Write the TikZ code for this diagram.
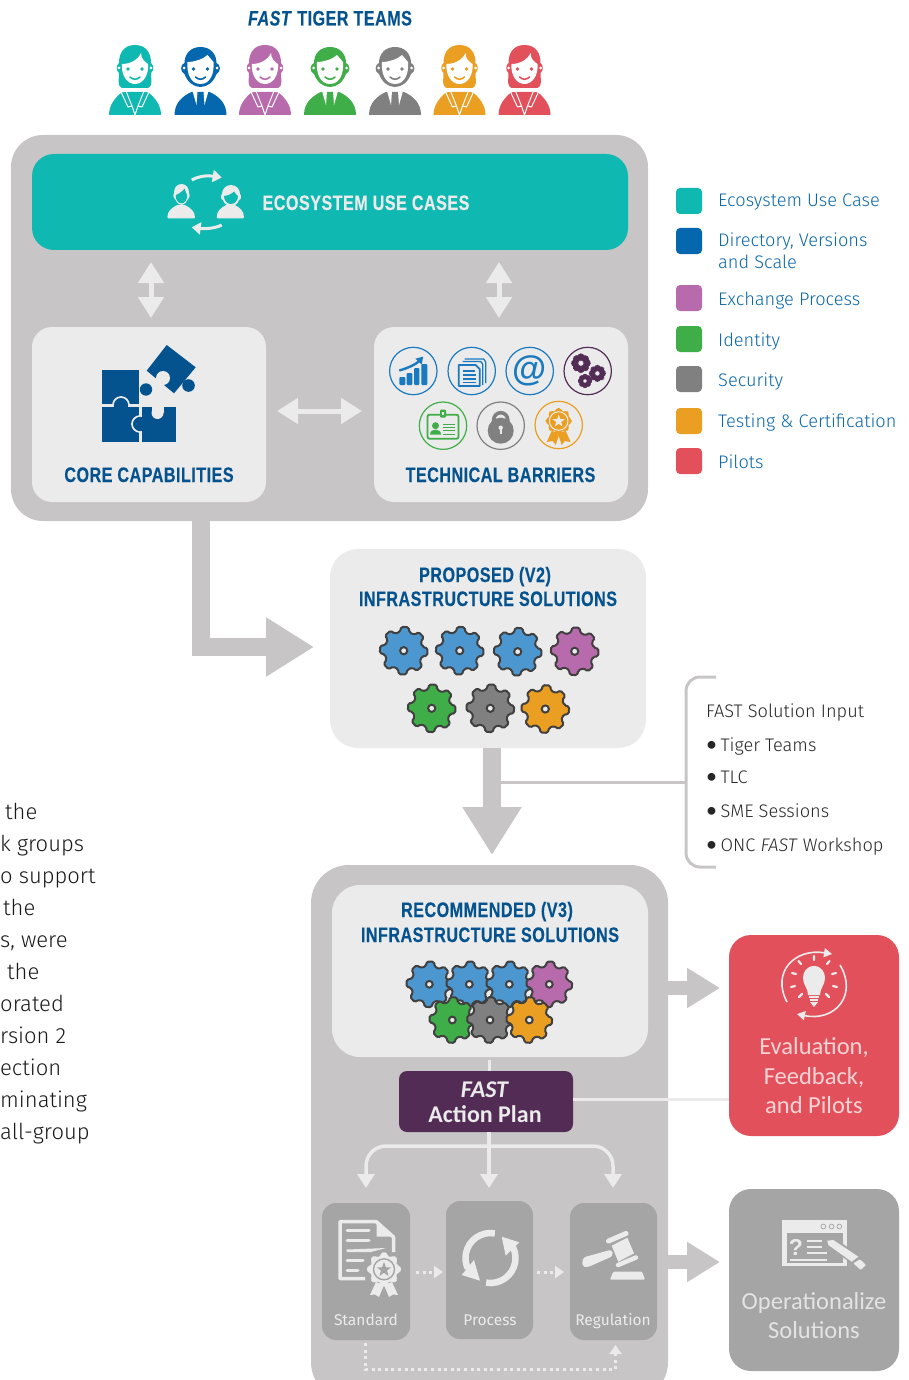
\documentclass[tikz,border=0pt]{standalone}
\usepackage{fontspec}
\usetikzlibrary{arrows.meta,shapes.geometric,calc}
\setmainfont{Fira Sans Light}[BoldFont={Fira Sans},ItalicFont={Fira Sans Light Italic}]
\newfontfamily\headf[FakeStretch=0.77,LetterSpace=2.2,FakeBold=0.25]{Liberation Sans Bold}
\newfontfamily\headfi[FakeStretch=0.77,LetterSpace=2.2,FakeBold=0.25]{Liberation Sans Bold Italic}
\newfontfamily\atf{Liberation Sans Bold}
\newfontfamily\calib{Carlito}
\definecolor{cteal}{HTML}{0FB9B1}
\definecolor{cblue}{HTML}{0568AE}
\definecolor{cpurp}{HTML}{B86BAC}
\definecolor{cgreen}{HTML}{3FAE49}
\definecolor{cgray}{HTML}{808080}
\definecolor{corange}{HTML}{EA9F22}
\definecolor{cred}{HTML}{E2505C}
\definecolor{ctitle}{HTML}{04528E}
\definecolor{cbg}{HTML}{C7C5C6}
\definecolor{clight}{HTML}{EBEBEB}
\definecolor{cgear}{HTML}{4D97D1}
\definecolor{cplum}{HTML}{532C56}
\definecolor{cbox}{HTML}{A5A5A5}
\definecolor{cdark}{HTML}{404040}
\definecolor{ctext}{HTML}{0A67A8}
\definecolor{cicon}{HTML}{1A7ABF}
\tikzset{
 panel/.style n args={5}{draw=none,fill=#1,rectangle,inner sep=0pt,outer sep=0pt,rounded corners=#2,minimum width=#3 pt,minimum height=#4 pt},
 head/.style={font=\headf\fontsize{21}{24}\selectfont,text=ctitle,inner sep=0pt,anchor=base},
 legtxt/.style={font=\fontsize{18.2}{22}\selectfont,text=ctext,anchor=base west,inner sep=0pt},
 soltxt/.style={font=\fontsize{18.2}{22}\selectfont,text=black!85,anchor=base west,inner sep=0pt},
 bodytxt/.style={font=\fontsize{22}{26}\selectfont,text=black!90,anchor=base west,inner sep=0pt},
 boxtxt/.style={font=\bfseries\fontsize{15.5}{18}\selectfont,text=clight,inner sep=0pt,anchor=base},
 calibtxt/.style={font=\calib\fontsize{24.5}{29.5}\selectfont,align=center,inner sep=0pt},
 swatch/.style={fill=#1,rectangle,rounded corners=4pt,minimum width=26pt,minimum height=26pt,inner sep=0pt},
 bigarrow/.style={cbg,line width=18pt,-{Triangle[length=48pt,width=56pt]}},
 midarrow/.style={cbg,line width=14pt,-{Triangle[length=33pt,width=38pt]}},
 duoV/.style={clight,line width=5pt,{Triangle[length=21pt,width=25pt]}-{Triangle[length=21pt,width=25pt]}},
 link/.style={clight,line width=3pt},
 tipline/.style={clight,line width=3.5pt,-{Triangle[length=14pt,width=17pt]}},
 dottip/.style={clight,-{Triangle[length=9pt,width=12pt]},line width=3pt,dash pattern=on 3pt off 3.6pt},
}
% gear: x y R fill stroke holeR holefill strokewidth rotation
\newcommand\gearicon[9]{%
 \pgfmathsetmacro\gr{#3*0.8}%
 \filldraw[fill=#4,draw=#5,line width=#8pt,rounded corners=1.6pt,line join=round,shift={(#1,#2)}]
  ({#9-14}:\gr) \foreach \i in {0,...,7}{ -- ({#9+\i*45-14}:\gr) -- ({#9+\i*45-9}:#3) -- ({#9+\i*45+9}:#3) -- ({#9+\i*45+14}:\gr) } -- cycle;
 \filldraw[fill=#7,draw=#5,line width=#8pt] (#1,#2) circle[radius=#6];
}
\newcommand\bgear[3]{\gearicon{#1}{#2}{24}{#3}{cdark}{3.6}{clight}{2}{3}}
\newcommand\cgear[3]{\gearicon{#1}{#2}{23}{#3}{cdark}{3.4}{clight}{2}{3}}
\newcommand\faceparts[1]{%
 \fill[#1] (-7,24) circle[radius=1.9] (7,24) circle[radius=1.9];
 \draw[#1,line width=1.6pt,line cap=round] (-5,32) .. controls (-2,35) and (2,35) .. (5,32);
}
\newcommand\femaleicon[2]{\begin{scope}[shift={(#1,45)}]
 \fill[#2] (0,0) .. controls (-12,0) and (-16,9) .. (-16,18) .. controls (-19,20) and (-19,26) .. (-16,28) .. controls (-16,35) and (-18,41) .. (-13,43) -- (13,43) .. controls (18,41) and (16,35) .. (16,28) .. controls (19,26) and (19,20) .. (16,18) .. controls (16,9) and (12,0) .. (0,0) -- cycle;
 \fill[white] (6,8) .. controls (6,14) and (10,17) .. (13,19) .. controls (14,30) and (8,39) .. (0,39) .. controls (-8,39) and (-14,30) .. (-13,19) .. controls (-5,19) and (3,15) .. (6,8) -- cycle;
 \fill[white] (-16,23) circle[radius=1.5] (16,23) circle[radius=1.5];
 \faceparts{#2}
 \fill[#2] (-26,70) .. controls (-26,60) and (-20,53) .. (-13,47) -- (13,47) .. controls (20,53) and (26,60) .. (26,70) -- cycle;
 \draw[white,line width=1pt,line join=round] (-14,47) -- (-9,46) -- (-3,61) -- (0,70) -- (3,61) -- (9,46) -- (14,47) (-14,47) -- (-7,62) -- (-3,61) (14,47) -- (7,62) -- (3,61);
\end{scope}}
\newcommand\maleicon[2]{\begin{scope}[shift={(#1,45)}]
 \fill[#2] (0,2) .. controls (-10,2) and (-16,9) .. (-16,18) .. controls (-20,19) and (-21,27) .. (-16,29) .. controls (-13,37) and (-7,42) .. (0,42) .. controls (7,42) and (13,37) .. (16,29) .. controls (21,27) and (20,19) .. (16,18) .. controls (16,9) and (10,2) .. (0,2) -- cycle;
 \fill[white] (-13,17) .. controls (-6,17) and (3,14) .. (7,10) .. controls (9,13) and (12,15) .. (13,17) .. controls (14,28) and (10,39) .. (0,39) .. controls (-10,39) and (-14,28) .. (-13,17) -- cycle;
 \fill[white] (-16.5,23) circle[radius=1.5] (16.5,23) circle[radius=1.5];
 \faceparts{#2}
 \fill[#2] (-26,70) .. controls (-26,58) and (-18,51) .. (-9,47) -- (9,47) .. controls (18,51) and (26,58) .. (26,70) -- cycle;
 \fill[white] (-8,46) -- (-3,46) -- (-4,60) -- cycle (8,46) -- (3,46) -- (4,60) -- cycle;
\end{scope}}
\newcommand\ringicon[3]{\draw[#3,line width=1.2pt,fill=clight] (#1,#2) circle[radius=23.7];}
\newcommand\soltbullet{{\calib\fontsize{22}{22}\selectfont•}\hspace{3.5pt}}
\begin{document}
\begin{tikzpicture}[x=1pt,y=-1pt]
\useasboundingbox (0,0) rectangle (908,1380);
\clip (0,0) rectangle (908,1380);
% title
\node[font=\fontsize{21}{24}\selectfont,text=ctitle,inner sep=0pt,anchor=base] (title) at (330,25.5) {{\headfi FAST}\hspace{6.5pt}{\headf TIGER TEAMS}};
\femaleicon{135}{cteal}
\maleicon{200.5}{cblue}
\femaleicon{265}{cpurp}
\maleicon{330}{cgreen}
\maleicon{395}{cgray}
\femaleicon{459.5}{corange}
\femaleicon{524.5}{cred}
% top panel
\node[panel={cbg}{32pt}{637}{386}{}] (top) at (329.5,328) {};
\node[panel={cteal}{22pt}{596}{96}{}] (eco) at (330,202) {};
\node[panel={clight}{20pt}{234}{175}{}] (core) at (149,414.5) {};
\node[panel={clight}{20pt}{254}{175}{}] (tech) at (501,414.5) {};
\coordinate (a1) at (151,262); \coordinate (a2) at (151,318);
\coordinate (a3) at (499,262); \coordinate (a4) at (499,318);
\coordinate (a5) at (277,411); \coordinate (a6) at (362,411);
\draw[duoV] (a1) -- (a2);
\draw[duoV] (a3) -- (a4);
\draw[duoV] (a5) -- (a6);
\node[font=\headf\fontsize{21}{24}\selectfont,text=clight,inner sep=0pt,anchor=base] (ecot) at (366,210) {ECOSYSTEM USE CASES};
\node[head] (coret) at (149,482) {CORE CAPABILITIES};
\node[head] (techt) at (500.5,482) {TECHNICAL BARRIERS};
% eco icon
\begin{scope}[clight]
 \fill[rounded corners=1pt] (167.3,218.3) .. controls (167.3,211) and (172,208) .. (177,205) -- (185,205) .. controls (190,208) and (195,211) .. (195,218.3) -- cycle;
 \fill[rounded corners=1pt] (216.7,218.3) .. controls (216.7,211) and (221,208) .. (226,205) -- (235,205) .. controls (240,208) and (244,211) .. (244,218.3) -- cycle;
 \fill (181.5,184) .. controls (176,184) and (174,189) .. (174,193) .. controls (172.5,196) and (174,199) .. (175,199) .. controls (176,202) and (178,204) .. (181.5,205) .. controls (185,204) and (187,202) .. (188,199) .. controls (189,199) and (190.5,196) .. (189,193) .. controls (189,189) and (187,184) .. (181.5,184) -- cycle;
 \fill (231,185) .. controls (225,185) and (222,190) .. (222,194) .. controls (220,196) and (221,200) .. (223,200) .. controls (224,204) and (228,206) .. (231,206) .. controls (234,206) and (238,204) .. (239,200) .. controls (241,200) and (242,196) .. (240,194) .. controls (240,190) and (237,185) .. (231,185) -- cycle;
 \draw[line width=3pt,-{Triangle[length=9pt,width=12pt]}] (191.7,180) .. controls (198,176.5) and (206,175) .. (221.7,177.5);
 \draw[line width=3pt,-{Triangle[length=9pt,width=12pt]}] (221.7,225) .. controls (215,228.5) and (205,229) .. (191.7,227.3);
\end{scope}
\fill[cteal] (175.8,195) .. controls (179,194) and (183,191) .. (184.5,188.5) .. controls (185.5,191.5) and (186.5,193.5) .. (187,195) .. controls (187.5,201) and (184,203.3) .. (181.5,203.3) .. controls (179,203.3) and (175.5,201) .. (175.8,195) -- cycle;
\fill[cteal] (224,196) .. controls (229,195.5) and (232,193.5) .. (234,191.5) .. controls (235,193) and (236.5,195) .. (238,196) .. controls (238,201) and (234.5,204) .. (231,204) .. controls (227.5,204) and (224,201) .. (224,196) -- cycle;
% puzzle
\begin{scope}[ctitle]
 \fill (102.3,370.3) rectangle (139,404);
 \fill (102.3,406.7) rectangle (139,441.7);
 \fill (141.7,406.7) rectangle (175.7,441.7);
 \fill (146,389.5) circle[radius=6.2];
 \fill (166.7,345) -- (195.7,367.3) -- (174,393.3) -- (146.7,370.7) -- cycle;
 \fill (188.5,385.5) circle[radius=6.3];
 \draw[clight,line width=1.7pt,fill=ctitle] (121,405) ++(-8,0) arc (180:360:8);
 \fill (113.8,404) rectangle (128.2,407);
 \draw[clight,line width=1.7pt,fill=ctitle] (140,424) ++(0,-8) arc (270:90:8);
 \fill (138,416.8) rectangle (142,431.2);
 \fill[clight] (157.5,413) circle[radius=6];
 \fill[clight] (151.5,405) rectangle (163.5,413);
 \fill[clight] (163,378) circle[radius=7];
\end{scope}
% technical barriers
\ringicon{413.3}{371}{cicon}
\ringicon{471.7}{371}{cicon}
\ringicon{529.7}{371}{cicon}
\ringicon{587.7}{371}{cplum}
\ringicon{443}{425.7}{cgreen}
\ringicon{500.7}{425.7}{cgray}
\ringicon{558.7}{425}{corange}
\begin{scope}[shift={(413.3,371)},cicon]
 \fill[rounded corners=1pt] (-14,14) rectangle (-8,6) (-6.7,14) rectangle (-1,2) (0.7,14) rectangle (6,-3) (8,14) rectangle (14,-7);
 \draw[line width=2.4pt,-{Triangle[length=7pt,width=8pt]}] (-14,-0.5) .. controls (-5,-3) and (3,-7) .. (10,-14.5);
\end{scope}
\begin{scope}[shift={(471.7,371)},cicon,line join=round]
 \draw[line width=1.3pt] (-7,-12) -- (12,-12) -- (14,-9) -- (14,12);
 \draw[line width=1.3pt] (-9,-9.5) -- (9,-9.5) -- (11,-7) -- (11,14);
 \draw[line width=1.8pt,fill=clight] (-13,-6) -- (4,-6) -- (8,-2) -- (8,15) -- (-13,15) -- cycle;
 \draw[line width=1.4pt] (-9,0) -- (3,0) (-9,4) -- (4,4) (-9,8) -- (4,8) (-9,11.5) -- (4,11.5);
\end{scope}
\node[font=\atf\fontsize{35}{35}\selectfont,text=cicon,inner sep=0pt] (atsign) at (529.7,371) {@};
\gearicon{580.9}{363.2}{9.8}{cplum}{cplum}{3}{clight}{0.5}{0}
\gearicon{597.4}{373.4}{8.3}{cplum}{cplum}{2.6}{clight}{0.5}{0}
\gearicon{585}{381}{6.6}{cplum}{cplum}{2.1}{clight}{0.5}{0}
\begin{scope}[shift={(443,425.7)},cgreen]
 \draw[line width=1.8pt,rounded corners=2pt] (-15.5,-11) rectangle (15.5,13);
 \fill[rounded corners=1pt] (-3,-16) rectangle (3,-8);
 \fill[clight] (-1,-14) rectangle (1,-11);
 \fill (-7.5,0) circle[radius=3.5];
 \fill (-13,9) .. controls (-13,5) and (-10,4) .. (-7.5,4) .. controls (-5,4) and (-2,5) .. (-2,9) -- cycle;
 \draw[line width=1pt] (0,-1) -- (12,-1) (0,2) -- (12,2) (0,5) -- (12,5) (0,8.5) -- (12,8.5);
\end{scope}
\begin{scope}[shift={(500.7,425.7)},cgray]
 \draw[line width=3.6pt] (-7,-2) -- (-7,-6) arc (180:360:7) -- (7,-2);
 \fill (0,5) circle[radius=13];
 \fill[clight] (0,2) circle[radius=2.2];
 \fill[clight] (-1,2) rectangle (1,8);
\end{scope}
\begin{scope}[shift={(558.7,425)},corange]
 \fill (-7,6) -- (-12,17) -- (-6,16) -- (-3,20) -- (1,8) -- cycle;
 \fill (7,6) -- (12,17) -- (6,16) -- (3,20) -- (-1,8) -- cycle;
\end{scope}
\gearicon{558.7}{421}{13}{corange}{corange}{8.4}{corange}{0.3}{0}
\draw[clight,line width=1pt] (558.7,421) circle[radius=9.3];
\fill[clight] (558.7,414.5) -- (560.2,419) -- (565,419) -- (561.2,422) -- (562.5,426.5) -- (558.7,423.8) -- (554.9,426.5) -- (556.2,422) -- (552.4,419) -- (557.2,419) -- cycle;
% legend
\node[swatch=cteal] (s1) at (689,201) {};
\node[swatch=cblue] (s2) at (689,241) {};
\node[swatch=cpurp] (s3) at (689,298) {};
\node[swatch=cgreen] (s4) at (689,339) {};
\node[swatch=cgray] (s5) at (689,379) {};
\node[swatch=corange] (s6) at (689,421) {};
\node[swatch=cred] (s7) at (689,461) {};
\node[legtxt] (l1) at (718,207) {Ecosystem Use Case};
\node[legtxt] (l2) at (718,247) {Directory, Versions};
\node[legtxt] (l2b) at (718,269) {and Scale};
\node[legtxt] (l3) at (718,305) {Exchange Process};
\node[legtxt] (l4) at (718,346) {Identity};
\node[legtxt] (l5) at (718,386) {Security};
\node[legtxt] (l6) at (718,427) {Testing \& Certification};
\node[legtxt] (l7) at (718,468) {Pilots};
% proposed
\node[panel={clight}{28pt}{316}{199}{}] (prop) at (488,648.5) {};
\coordinate (l0) at (201,521);
\draw[bigarrow] (l0) |- (314,647) coordinate (ltip);
\node[head] (pt1) at (485,582) {PROPOSED (V2)};
\node[head] (pt2) at (488,606) {INFRASTRUCTURE SOLUTIONS};
\bgear{403.7}{650.7}{cgear}
\bgear{459.7}{650.7}{cgear}
\bgear{517.7}{651.7}{cgear}
\bgear{574.7}{651.3}{cpurp}
\bgear{431.7}{708.3}{cgreen}
\bgear{490.3}{708.3}{cgray}
\bgear{545.3}{709}{corange}
% lower panel
\node[panel={cbg}{38pt}{357}{535}{}] (rec) at (489.5,1132.5) {};
\coordinate (p0) at (492,748); \coordinate (p1) at (492,855);
\draw[bigarrow] (p0) -- (p1);
\coordinate (in0) at (500,782); \coordinate (in1) at (686,782);
\draw[cbg,line width=3pt] (in0) -- (in1);
\coordinate (br0) at (716,677); \coordinate (br1) at (716,867);
\draw[cbg,line width=3pt,rounded corners=14pt] (br0) -- (686,677) -- (686,867) -- (br1);
\node[soltxt] (f1) at (706,717) {FAST Solution Input};
\node[soltxt] (f2) at (706,751) {\soltbullet Tiger Teams};
\node[soltxt] (f3) at (706,783.5) {\soltbullet TLC};
\node[soltxt] (f4) at (706,817.5) {\soltbullet SME Sessions};
\node[soltxt] (f5) at (706,851.5) {\soltbullet ONC \textit{FAST} Workshop};
% left clipped text
\foreach \n/\xx/\yy/\tt in {b1/5/819/the,b2/0/851/k groups,b3/0/883/o support,b4/3/915/the,b5/0/947/{s, were},b6/7/979/the,b7/0/1011/orated,b8/0/1043/rsion 2,b9/0/1075/ection,b10/0/1107/minating,b11/0/1139/all-group}
 {\node[bodytxt] (\n) at (\xx,\yy) {\tt};}
% recommended
\node[panel={clight}{28pt}{316}{172}{}] (v3) at (490,971) {};
\node[head] (rt1) at (487,917) {RECOMMENDED (V3)};
\node[head] (rt2) at (490,942) {INFRASTRUCTURE SOLUTIONS};
\cgear{429.3}{984.3}{cgear}
\cgear{469.3}{984.3}{cgear}
\cgear{509.3}{984.3}{cgear}
\cgear{549.3}{984.3}{cpurp}
\cgear{452.3}{1020}{cgreen}
\cgear{490}{1020}{cgray}
\cgear{529.3}{1020}{corange}
% outcome boxes
\node[panel={cred}{22pt}{170}{201}{}] (eval) at (814,1035.5) {};
\node[panel={cbox}{22pt}{170}{182}{}] (oper) at (814,1280) {};
\coordinate (e0) at (668,988); \coordinate (e1) at (720,988);
\coordinate (o0) at (668,1262); \coordinate (o1) at (720,1262);
\draw[midarrow] (e0) -- (e1);
\draw[midarrow] (o0) -- (o1);
% action plan
\node[panel={cplum}{8pt}{174}{61}{}] (plan) at (486,1101.5) {};
\coordinate (v3b) at (489,1060);
\coordinate (pl) at (489,1071);
\draw[link] (v3b) -- (pl);
\draw[link] (plan.east |- 0,1099) -- (eval.west |- 0,1099);
\node[calibtxt,text=clight,font=\calib\bfseries\fontsize{24}{25}\selectfont] (plant) at (485,1102) {\textit{FAST}\\Action Plan};
% standard / process / regulation
\node[panel={cbox}{14pt}{88}{137}{}] (std) at (366,1271.5) {};
\node[panel={cbox}{14pt}{87}{138}{}] (proc) at (489.5,1270) {};
\node[panel={cbox}{14pt}{87}{137}{}] (reg) at (613.5,1271.5) {};
\node[boxtxt] (st) at (366,1325.5) {Standard};
\node[boxtxt] (pt) at (490,1325.5) {Process};
\node[boxtxt] (rt) at (613,1325.5) {Regulation};
\coordinate (t0) at (489,1132); \coordinate (t1) at (489,1188);
\coordinate (tl) at (366,1188); \coordinate (tr) at (613,1188);
\draw[tipline] (t0) -- (t1);
\draw[tipline,rounded corners=20pt] (489,1146) -- (366,1146) -- (tl);
\draw[tipline,rounded corners=20pt] (489,1146) -- (613,1146) -- (tr);
\coordinate (d0) at (416,1272); \coordinate (d1) at (443,1272);
\coordinate (d2) at (537,1272); \coordinate (d3) at (564,1272);
\draw[dottip] (d0) -- (d1);
\draw[dottip] (d2) -- (d3);
\coordinate (d4) at (365,1343); \coordinate (d5) at (615.5,1345);
\draw[dottip] (d4) |- (615.5,1369.5) -- (d5);
% standard icon
\begin{scope}[clight]
 \draw[line width=3.5pt,line join=round] (393.5,1252) -- (393.5,1237) -- (376,1221.5) -- (340,1221.5) -- (340,1278.5) -- (365,1278.5);
 \fill (376.7,1220) -- (395,1236.7) -- (376.7,1236.7) -- cycle;
 \draw[line width=3pt,line cap=round] (347,1230.7) -- (369,1230.7) (347,1240.7) -- (369,1240.7) (347,1260.7) -- (363,1260.7) (347,1270.7) -- (358,1270.7);
 \fill (346.7,1249.5) -- (386,1248) -- (370,1252.2) -- (346.7,1252.2) -- cycle;
 \fill (376,1282) -- (370,1295) -- (375,1294.5) -- (379,1297) -- (384,1285) -- cycle;
 \fill (392,1282) -- (398,1295) -- (393,1294.5) -- (389,1297) -- (384,1285) -- cycle;
\end{scope}
\gearicon{384}{1269.3}{17}{clight}{clight}{11.5}{clight}{0.3}{0}
\draw[cbox,fill=clight,line width=1.4pt] (384,1269.3) circle[radius=10.5];
\fill[cbox] (384,1262) -- (386,1267.3) -- (391.2,1267.3) -- (387,1270.6) -- (388.6,1276) -- (384,1272.8) -- (379.4,1276) -- (381,1270.6) -- (376.8,1267.3) -- (382,1267.3) -- cycle;
% process icon
\begin{scope}[clight]
 \draw[line width=6.5pt] (490.5,1258) ++(280:25) arc (280:155:25);
 \draw[line width=6.5pt] (490.5,1258) ++(100:25) arc (100:-40:25);
 \fill (461.7,1275) -- (480,1280.7) -- (474,1260) -- cycle;
 \fill (501.7,1236.7) -- (519.3,1242.3) -- (505.7,1255.7) -- cycle;
\end{scope}
% gavel
\begin{scope}[clight]
 \fill (611.7,1245.7) -- (627.3,1237.7) -- (634,1253.3) -- (618.3,1261.7) -- cycle;
 \draw[line width=5pt,line cap=round] (608.5,1241) -- (626,1233.5);
 \draw[line width=4.5pt,line cap=round] (618,1265) -- (636,1257.5);
 \fill[rounded corners=3pt] (612,1249.5) -- (583,1257.5) -- (582,1266) -- (587,1267.5) -- (613,1256) -- cycle;
 \fill[rounded corners=1pt] (610,1279.5) -- (645,1279.5) -- (642,1271.7) -- (613.3,1271.7) -- cycle;
\end{scope}
% evaluation
\node[calibtxt,text=red!8!white,opacity=0.85] (evalt) at (814,1076) {Evaluation,\\Feedback,\\and Pilots};
\begin{scope}[clight]
 \draw[line width=1.6pt,-{Triangle[length=8pt,width=9pt]}] (787,1002) .. controls (771,972) and (795,948) .. (832,954);
 \draw[line width=1.6pt,-{Triangle[length=8pt,width=9pt]}] (840,965) .. controls (858,995) and (835,1022) .. (797,1014);
 \fill (814,966) .. controls (806,966) and (803,973) .. (803,978) .. controls (803,985) and (808,988) .. (808,995) -- (820,995) .. controls (820,988) and (825,985) .. (825,978) .. controls (825,973) and (822,966) .. (814,966) -- cycle;
 \draw[line width=1.3pt] (809,997) -- (819,997) (810,1000) -- (818,1000);
 \fill (810,1002) -- (818,1002) -- (814,1007) -- cycle;
 \draw[line width=2.2pt,line cap=round] (814,960) -- (814,956) (801,964) -- (798.5,961) (827,964) -- (829.5,961) (796,974) -- (792,973) (832,974) -- (836,973) (795,986) -- (791,987) (833,986) -- (837,987) (802,994) -- (799,997) (826,994) -- (829,997);
\end{scope}
% operationalize
\node[calibtxt,text=clight!88!cbox] (opert) at (814,1315.5) {Operationalize\\Solutions};
\begin{scope}[clight]
 \fill (781.7,1220) rectangle (846.7,1266);
 \fill[cbox] (786.7,1232.7) rectangle (842.7,1262.7);
 \draw[cbox,line width=0.7pt] (823.3,1226.5) circle[radius=2.4] (831.6,1226.5) circle[radius=2.4] (839.3,1226.5) circle[radius=2.4];
 \node[font=\atf\fontsize{23}{23}\selectfont,text=clight,inner sep=0pt] (qm) at (796,1247) {?};
 \draw[line width=2.2pt] (806.7,1240.7) -- (821.7,1240.7) (806.7,1247.3) -- (821.7,1247.3) (806.7,1253.3) -- (826.7,1253.3) (790,1260) -- (826.7,1260);
 \draw[cbox,line width=11pt] (832,1243) -- (855,1259);
 \fill (827.3,1240.7) -- (833.3,1240) -- (858.3,1256.7) -- (851.7,1261.7) -- (828.3,1245) -- cycle;
 \fill[rounded corners=1pt] (853.3,1263.3) -- (860,1259.3) -- (866,1265) -- (860.7,1270) -- cycle;
\end{scope}
\end{tikzpicture}
\end{document}
